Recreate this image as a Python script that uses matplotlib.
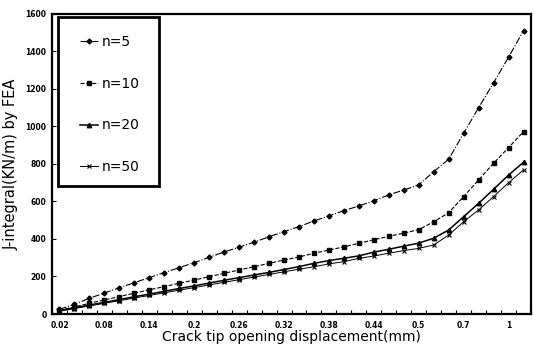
import numpy as np
import matplotlib
matplotlib.use('Agg')
import matplotlib.pyplot as plt
from matplotlib.patches import Rectangle

# CTOD categories (mm); only every third one gets a label
ctod = ['0.02', '0.04', '0.06', '0.08', '0.1', '0.12', '0.14', '0.16', '0.18', '0.2',
        '0.22', '0.24', '0.26', '0.28', '0.3', '0.32', '0.34', '0.36', '0.38', '0.4',
        '0.42', '0.44', '0.46', '0.48', '0.5', '0.55', '0.6', '0.7', '0.8', '0.9', '1', '1.1']

# J-integral from FEA (kN/m) for each hardening exponent
j_n5 = [25, 52, 84, 112, 140, 167, 194, 221, 247, 274, 302, 331, 356, 383, 412, 439,
        466, 496, 523, 551, 576, 604, 635, 661, 688, 759, 825, 964, 1100, 1233, 1369, 1511]
j_n10 = [20, 38, 57, 75, 93, 111, 129, 146, 164, 181, 199, 217, 235, 252, 270, 288,
         304, 324, 341, 358, 377, 396, 414, 431, 450, 492, 540, 626, 715, 804, 887, 972]
j_n20 = [18, 33, 48, 62, 77, 92, 106, 121, 136, 150, 165, 180, 194, 208, 222, 237,
         253, 270, 285, 297, 310, 330, 345, 362, 378, 404, 448, 519, 590, 665, 741, 809]
j_n50 = [15, 29, 43, 57, 71, 85, 99, 113, 127, 141, 155, 169, 183, 197, 211, 225,
         239, 252, 267, 279, 297, 309, 324, 338, 350, 368, 421, 492, 555, 626, 700, 768]

x = np.arange(len(ctod))

fig = plt.figure(figsize=(5.34, 3.51), dpi=100)
ax = fig.add_axes([0.0974, 0.1054, 0.897, 0.855])

ax.plot(x, j_n5, color='black', lw=0.8, ls='-.', marker='D', ms=2.5, label='n=5')
ax.plot(x, j_n10, color='black', lw=0.8, ls='--', marker='s', ms=3, label='n=10')
ax.plot(x, j_n20, color='black', lw=1.1, ls='-', marker='^', ms=3.2, label='n=20')
ax.plot(x, j_n50, color='black', lw=0.7, ls='-', marker='x', ms=2.5, mew=0.8, label='n=50')

ax.set_xlim(-0.5, len(ctod) - 0.5)
ax.set_ylim(0, 1600)
ax.set_yticks(np.arange(0, 1601, 200))
ax.set_xticks(x[::3])
ax.set_xticklabels(ctod[::3])
ax.set_xticks(np.arange(-0.5, len(ctod), 1), minor=True)
ax.tick_params(axis='x', which='major', length=0, pad=5, labelsize=5.5)
ax.tick_params(axis='x', which='minor', direction='in', length=3, width=0.8)
ax.tick_params(axis='y', direction='in', length=3, width=0.8, pad=4, labelsize=5.5)
for lab in ax.get_xticklabels() + ax.get_yticklabels():
    lab.set_fontweight('bold')

for sp in ax.spines.values():
    sp.set_linewidth(1.6)

ax.set_xlabel('Crack tip opening displacement(mm)', fontsize=10, labelpad=0)
ax.set_ylabel('J-integral(KN/m) by FEA', fontsize=10.5, labelpad=5)

# legend box drawn separately so its padding can be set freely
ax.add_patch(Rectangle((0.0125, 0.427), 0.211, 0.563, transform=ax.transAxes,
                       fill=False, edgecolor='black', lw=2.0, zorder=5))
leg = ax.legend(loc='upper left', bbox_to_anchor=(0.058, 0.93), fontsize=10,
                frameon=False, labelspacing=2.0, handlelength=1.3,
                borderpad=0, borderaxespad=0, handletextpad=0.3)

fig.savefig('out.png', dpi=100)
